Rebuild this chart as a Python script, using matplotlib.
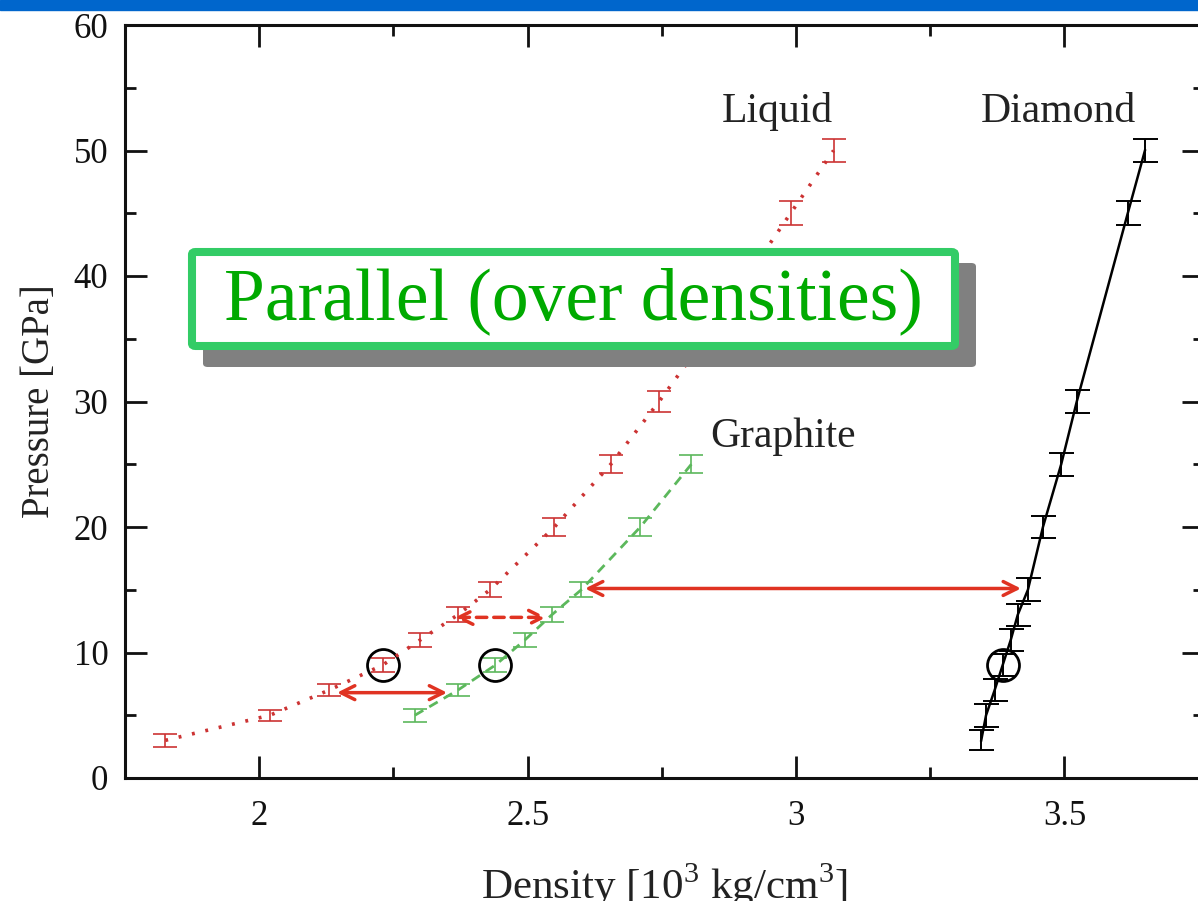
import matplotlib
matplotlib.use("Agg")
import matplotlib.pyplot as plt
from matplotlib.patches import Rectangle, FancyBboxPatch
from matplotlib.ticker import MultipleLocator

plt.rcParams['font.family'] = ['Liberation Serif', 'DejaVu Serif']
plt.rcParams['mathtext.fontset'] = 'custom'
plt.rcParams['mathtext.rm'] = 'Liberation Serif'

# Liquid carbon
liq_rho = [1.825, 2.02, 2.13, 2.23, 2.30, 2.37, 2.43, 2.55, 2.655, 2.745, 2.83, 2.91, 2.99, 3.07]
liq_p = [3, 5, 7, 9, 11, 13, 15, 20, 25, 30, 35, 40, 45, 50]
liq_err = [0.5, 0.45, 0.5, 0.55, 0.55, 0.6, 0.6, 0.7, 0.7, 0.8, 0.85, 0.9, 0.95, 0.9]

# Graphite
gra_rho = [2.29, 2.37, 2.44, 2.495, 2.545, 2.60, 2.71, 2.805]
gra_p = [5, 7, 9, 11, 13, 15, 20, 25]
gra_err = [0.5, 0.5, 0.55, 0.55, 0.6, 0.6, 0.75, 0.7]

# Diamond
dia_rho = [3.345, 3.354, 3.37, 3.385, 3.40, 3.413, 3.432, 3.46, 3.494, 3.523, 3.618, 3.65]
dia_p = [3, 5, 7, 9, 11, 13, 15, 20, 25, 30, 45, 50]
dia_err = [0.8, 0.9, 0.9, 0.9, 0.9, 0.9, 0.9, 0.9, 0.9, 0.9, 0.95, 0.9]

# density jumps between phases: (x_from, x_to, pressure, dashed)
jumps = [(2.145, 2.35, 6.8, False),
         (2.365, 2.535, 12.8, True),
         (2.607, 3.419, 15.1, False)]

RED = '#cc3333'
GREEN = '#5cb85c'
ARROW = '#e03322'

W, H = 1198, 901
fig = plt.figure(figsize=(W / 100, H / 100), dpi=100)
ax = fig.add_axes([125 / W, 1 - 778 / H, (1204 - 125) / W, (778 - 25) / H])

# top banner
fig.patches.append(Rectangle((0, 1 - 10 / H), 1, 10 / H, transform=fig.transFigure,
                             color='#0066cc', zorder=0))

ax.errorbar(liq_rho, liq_p, yerr=liq_err, color=RED, lw=2.6, ls=(0, (0.8, 3.0)),
            elinewidth=1.2, capsize=8.5, capthick=1.2)
ax.errorbar(gra_rho, gra_p, yerr=gra_err, color=GREEN, lw=2, ls=(0, (3.5, 2.5)),
            elinewidth=1.2, capsize=8.5, capthick=1.2)
ax.errorbar(dia_rho, dia_p, yerr=dia_err, color='black', lw=1.8, ls='-',
            elinewidth=1.4, capsize=9, capthick=1.4)

# circle the 9 GPa state of every phase
for rho, p in ((liq_rho, liq_p), (gra_rho, gra_p), (dia_rho, dia_p)):
    i = p.index(9)
    ax.plot(rho[i], p[i], 'o', ms=23, mfc='none', mec='black', mew=2)

for x0, x1, y, dashed in jumps:
    ax.annotate('', xy=(x1, y), xytext=(x0, y),
                arrowprops=dict(arrowstyle='<->', color=ARROW, lw=2.5,
                                ls=(0, (3, 2)) if dashed else '-',
                                mutation_scale=25, shrinkA=0, shrinkB=0))

ax.text(2.966, 52.3, 'Liquid', fontsize=30, ha='center', va='baseline', color='#222222')
ax.text(3.488, 52.3, 'Diamond', fontsize=30, ha='center', va='baseline', color='#222222')
ax.text(2.976, 26.4, 'Graphite', fontsize=30, ha='center', va='baseline', color='#222222')

# highlighted caption with a drop shadow (placed in pixel units)
px = lambda x, y, w, h: (x / W, 1 - (y + h) / H, w / W, h / H)
sx, sy, sw, sh = px(203, 263, 773, 104)
fig.patches.append(FancyBboxPatch((sx, sy), sw, sh, boxstyle='round,pad=0,rounding_size=0.004',
                                  transform=fig.transFigure, fc='#808080', ec='none', zorder=5))
bx, by, bw, bh = px(192, 252, 763, 94)
fig.patches.append(FancyBboxPatch((bx, by), bw, bh, boxstyle='round,pad=0,rounding_size=0.003',
                                  transform=fig.transFigure, fc='white', ec='#33cc66',
                                  lw=5.8, zorder=6))
fig.text((192 + 763 / 2) / W, 1 - 301 / H, 'Parallel (over densities)', fontsize=53,
         color='#00aa00', ha='center', va='center', zorder=7)

ax.set_xlim(1.75, 3.76)
ax.set_ylim(0, 60)
ax.xaxis.set_major_locator(MultipleLocator(0.5))
ax.xaxis.set_minor_locator(MultipleLocator(0.25))
ax.yaxis.set_major_locator(MultipleLocator(10))
ax.yaxis.set_minor_locator(MultipleLocator(5))
ax.tick_params(which='both', direction='in', top=True, right=True, width=2, colors='#111111')
ax.tick_params(which='major', length=16)
ax.tick_params(which='minor', length=8)
ax.tick_params(axis='x', labelsize=25, pad=16)
ax.tick_params(axis='y', labelsize=25, pad=12)
ax.set_xticks([2, 2.5, 3, 3.5])
ax.set_xticklabels(['2', '2.5', '3', '3.5'])
for s in ax.spines.values():
    s.set_linewidth(2.2)
    s.set_color('#111111')

ax.set_xlabel(r'Density [10$^3$ kg/cm$^3$]', fontsize=31, labelpad=20, color='#222222')
ax.set_ylabel('Pressure [GPa]', fontsize=28, labelpad=11, color='#222222')

fig.savefig('out.png', dpi=100)
